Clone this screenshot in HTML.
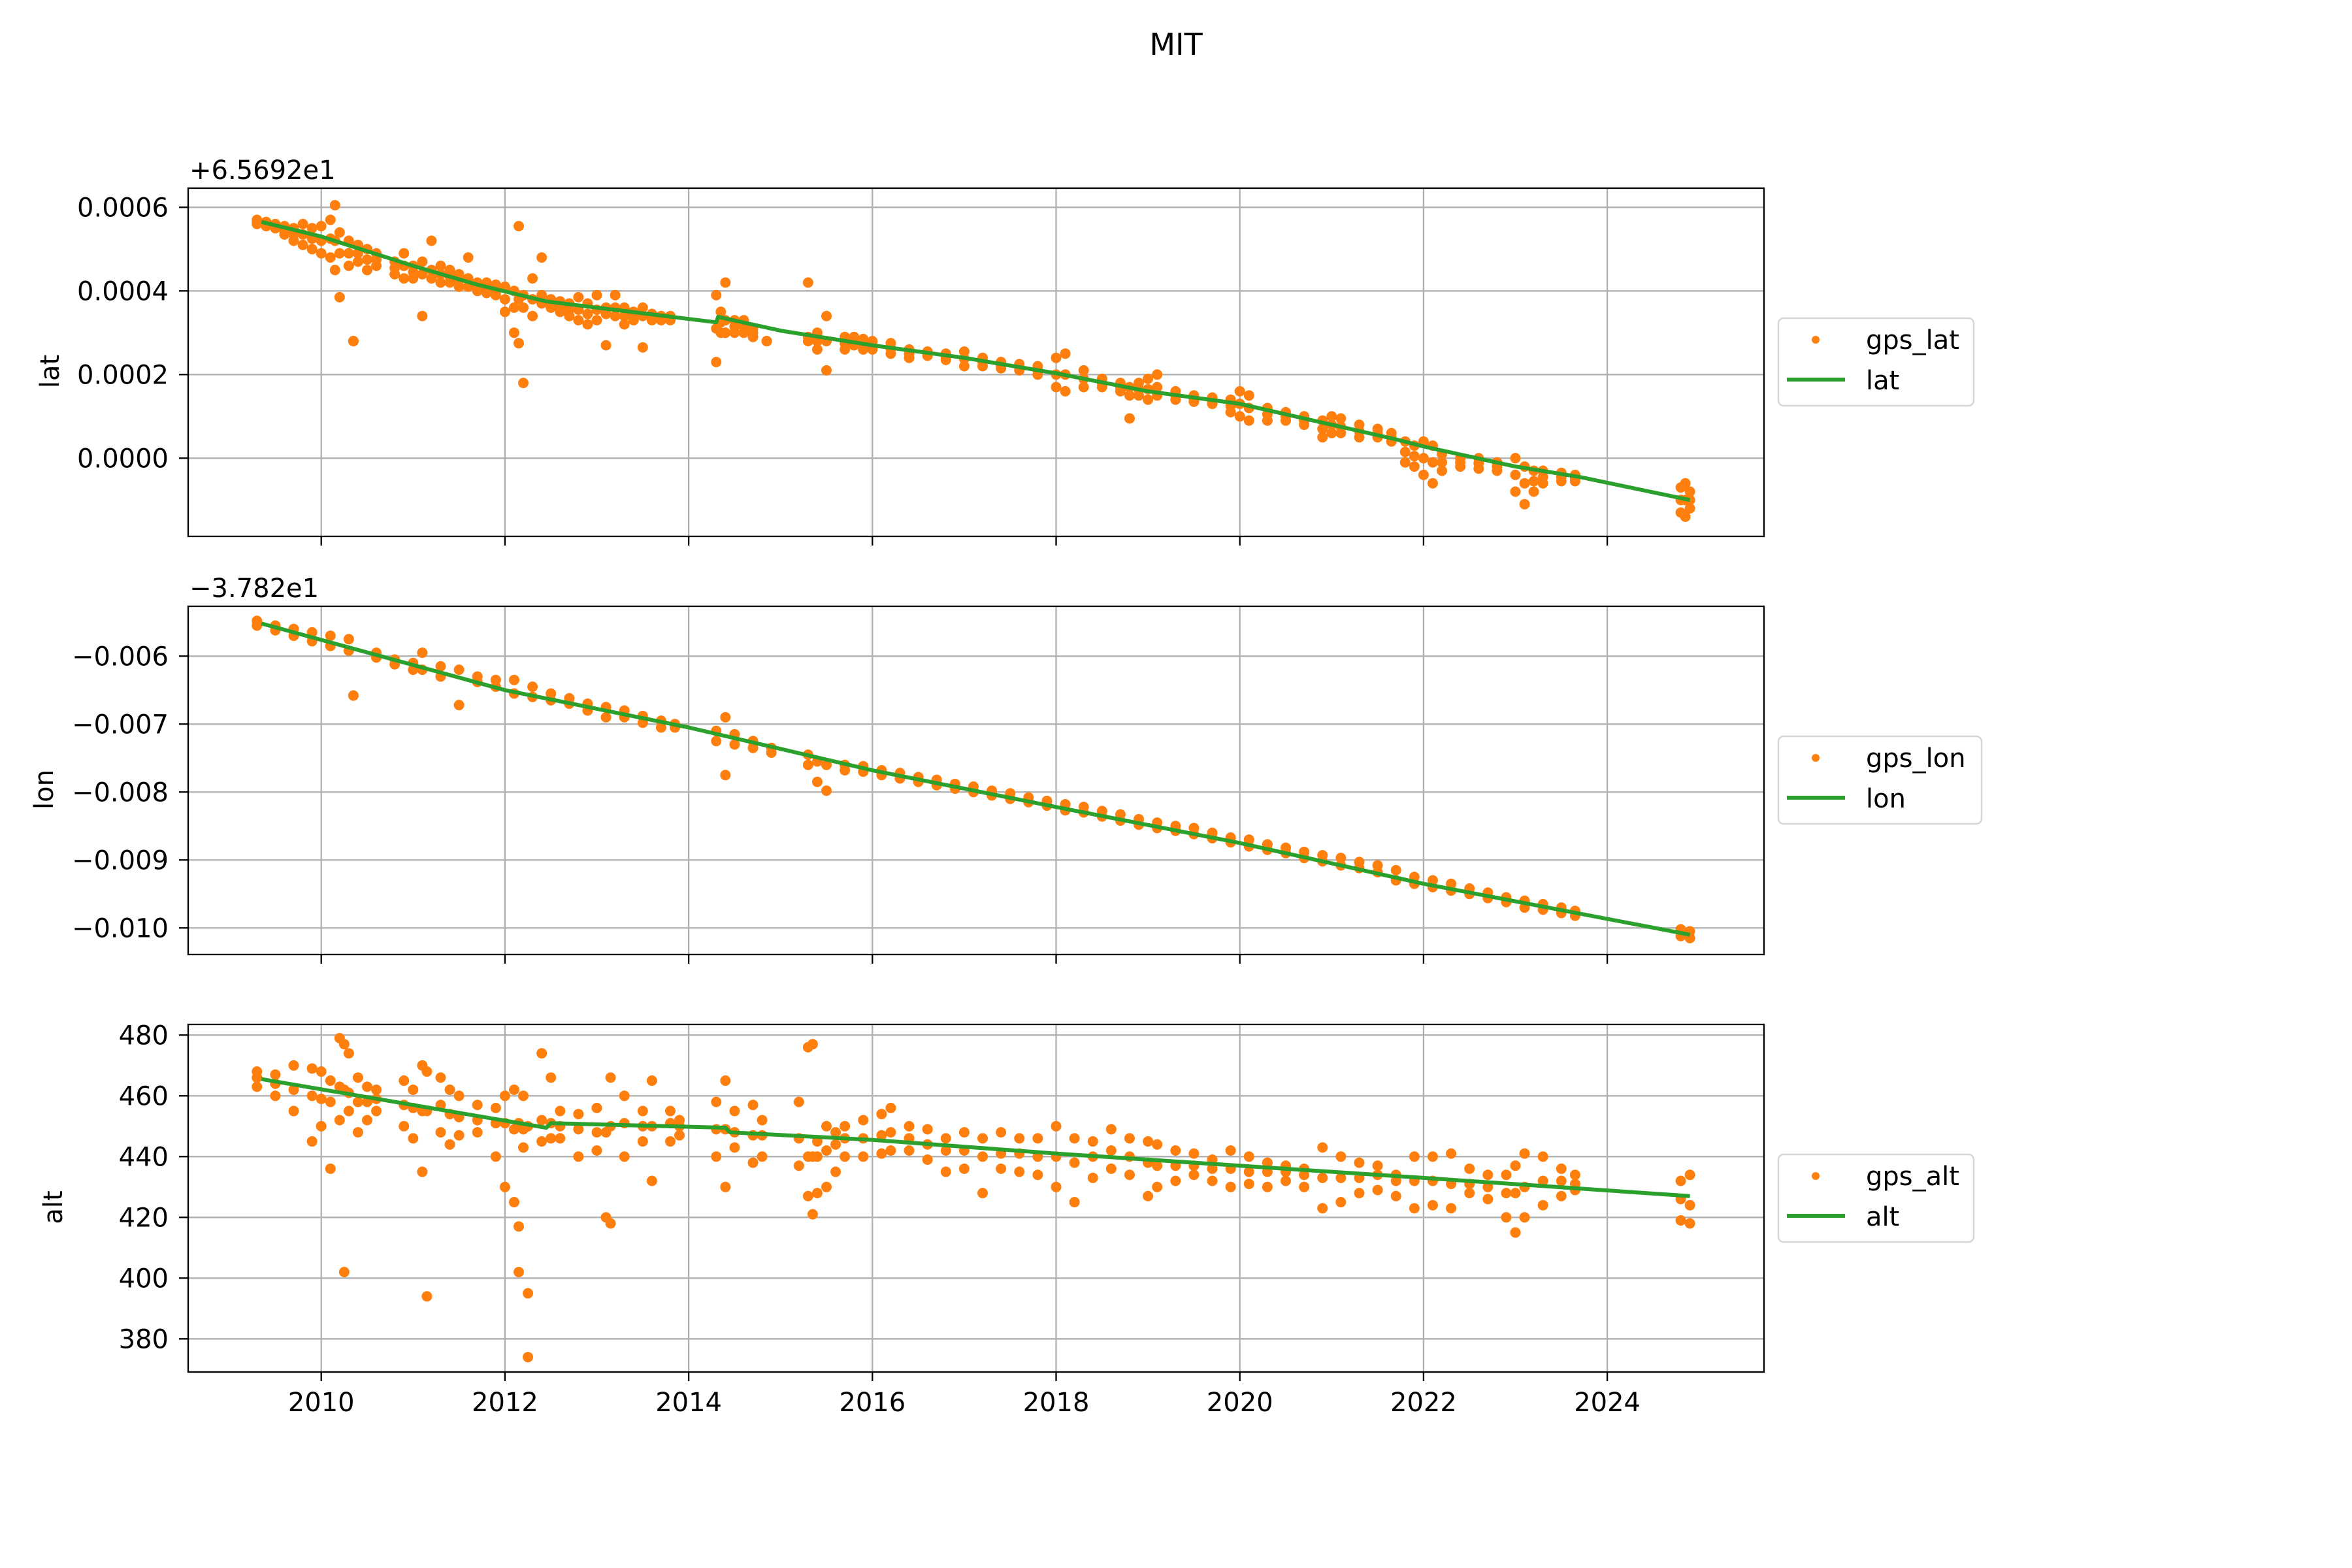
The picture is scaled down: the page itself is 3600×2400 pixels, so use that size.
<!DOCTYPE html>
<html><head><meta charset="utf-8"><style>
html,body{margin:0;padding:0;background:#fff}
svg{display:block}
text{font-family:"DejaVu Sans","Liberation Sans",sans-serif;fill:#000}
</style></head><body>
<svg id="fig" width="3600" height="2400" viewBox="0 0 3600 2400" xmlns="http://www.w3.org/2000/svg">
<rect width="3600" height="2400" fill="#fff"/>
<text x="1800" y="84" font-size="46" text-anchor="middle">MIT</text>
<g id="root"></g>
</svg>
<script>
// ---- data ----
const xTicks = [2010, 2012, 2014, 2016, 2018, 2020, 2022, 2024];

const latTicks = [0.0006, 0.0004, 0.0002, 0.0000];
const latTickLabels = ["0.0006", "0.0004", "0.0002", "0.0000"];
const latLineT = [2009.35, 2010.0, 2011.0, 2011.7, 2012.45, 2013.0, 2014.3, 2014.32, 2015, 2016, 2017, 2018, 2019, 2020, 2021, 2021.7, 2022, 2023, 2023.7, 2024.9];
const latLineV = [5.65, 5.3, 4.6, 4.15, 3.75, 3.6, 3.25, 3.38, 3.05, 2.7, 2.4, 2.03, 1.6, 1.3, 0.8, 0.45, 0.28, -0.2, -0.45, -1.0];
const latT = [2009.3,2009.4,2009.5,2009.6,2009.7,2009.8,2009.9,2010.0,2010.1,2010.15,2010.2,2010.3,2010.35,2010.4,2010.5,2010.6,2010.8,2010.9,2011.0,2011.1,2011.2,2011.3,2011.4,2011.5,2011.6,2011.7,2011.8,2011.9,2012.0,2012.1,2012.15,2012.2,2012.3,2012.4,2012.5,2012.6,2012.7,2012.8,2012.9,2013.0,2013.1,2013.2,2013.3,2013.4,2013.5,2013.6,2013.7,2013.8,2014.3,2014.35,2014.4,2014.5,2014.6,2014.7,2014.85,2015.3,2015.4,2015.5,2015.7,2015.8,2015.9,2016.0,2016.2,2016.4,2016.6,2016.8,2017.0,2017.2,2017.4,2017.6,2017.8,2018.0,2018.1,2018.3,2018.5,2018.7,2018.8,2018.9,2019.0,2019.1,2019.3,2019.5,2019.7,2019.9,2020.0,2020.1,2020.3,2020.5,2020.7,2020.9,2021.0,2021.1,2021.3,2021.5,2021.65,2021.8,2021.9,2022.0,2022.1,2022.2,2022.4,2022.6,2022.8,2023.0,2023.1,2023.2,2023.3,2023.5,2023.65,2024.8,2024.85,2024.9];
const latHi = [5.7,5.65,5.6,5.55,5.5,5.6,5.5,5.55,5.7,6.05,5.4,5.2,2.8,5.1,5.0,4.9,4.7,4.9,4.6,4.7,5.2,4.6,4.5,4.4,4.8,4.2,4.2,4.15,4.1,4.0,5.55,3.9,4.3,4.8,3.8,3.75,3.7,3.85,3.7,3.9,3.6,3.9,3.6,3.5,3.6,3.45,3.4,3.4,3.9,3.5,4.2,3.3,3.3,3.1,2.8,4.2,3.0,3.4,2.9,2.9,2.85,2.8,2.75,2.6,2.55,2.5,2.55,2.4,2.3,2.25,2.2,2.4,2.5,2.1,1.9,1.8,1.7,1.8,1.9,2.0,1.6,1.5,1.45,1.4,1.6,1.5,1.2,1.1,1.0,0.9,1.0,0.95,0.8,0.7,0.6,0.4,0.3,0.4,0.3,0.1,0.0,0.0,-0.1,0.0,-0.2,-0.3,-0.3,-0.35,-0.4,-0.7,-0.6,-0.8];
const latMid = [5.65,5.6,5.55,5.45,5.35,5.35,5.25,5.2,5.25,5.2,4.9,4.9,2.8,4.9,4.75,4.75,4.55,4.6,4.45,4.4,4.5,4.4,4.35,4.25,4.3,4.1,4.05,4.0,3.8,3.6,3.8,3.6,3.8,3.9,3.7,3.62,3.55,3.55,3.45,3.55,3.45,3.6,3.4,3.4,3.4,3.38,3.35,3.35,3.1,3.25,3.3,3.15,3.15,3.0,2.8,2.9,2.8,2.8,2.75,2.8,2.72,2.7,2.62,2.5,2.5,2.42,2.38,2.3,2.22,2.18,2.1,2.0,2.0,1.9,1.8,1.7,1.5,1.65,1.65,1.7,1.5,1.42,1.38,1.25,1.3,1.2,1.05,1.0,0.9,0.7,0.8,0.75,0.65,0.6,0.5,0.15,0.05,0.0,-0.1,-0.1,-0.1,-0.12,-0.2,-0.4,-0.6,-0.55,-0.45,-0.45,-0.48,-1.0,-1.0,-1.0];
const latLo = [5.6,5.55,5.5,5.35,5.2,5.1,5.0,4.9,4.8,4.5,3.85,4.6,2.8,4.7,4.5,4.6,4.4,4.3,4.3,3.4,4.3,4.2,4.2,4.1,4.1,4.0,3.95,3.9,3.5,3.0,2.75,1.8,3.4,3.7,3.6,3.5,3.4,3.3,3.2,3.3,2.7,3.4,3.2,3.3,2.65,3.3,3.3,3.3,2.3,3.0,3.0,3.0,3.0,2.9,2.8,2.8,2.6,2.1,2.6,2.7,2.6,2.6,2.5,2.4,2.45,2.35,2.2,2.2,2.15,2.1,2.0,1.7,1.6,1.7,1.7,1.6,0.95,1.5,1.4,1.5,1.4,1.35,1.3,1.1,1.0,0.9,0.9,0.9,0.8,0.5,0.6,0.6,0.5,0.5,0.4,-0.1,-0.2,-0.4,-0.6,-0.3,-0.2,-0.25,-0.3,-0.8,-1.1,-0.8,-0.6,-0.55,-0.55,-1.3,-1.4,-1.2];

const lonTicks = [-6, -7, -8, -9, -10];
const lonTickLabels = ["\u22120.006", "\u22120.007", "\u22120.008", "\u22120.009", "\u22120.010"];
const lonLineT = [2009.35, 2012, 2014, 2016, 2018, 2020, 2022, 2024.9];
const lonLineV = [-5.52, -6.5, -7.05, -7.68, -8.22, -8.75, -9.35, -10.1];
const lonT = [2009.3,2009.5,2009.7,2009.9,2010.1,2010.3,2010.35,2010.6,2010.8,2011.0,2011.1,2011.3,2011.5,2011.7,2011.9,2012.1,2012.3,2012.5,2012.7,2012.9,2013.1,2013.3,2013.5,2013.7,2013.85,2014.3,2014.4,2014.5,2014.7,2014.9,2015.3,2015.4,2015.5,2015.7,2015.9,2016.1,2016.3,2016.5,2016.7,2016.9,2017.1,2017.3,2017.5,2017.7,2017.9,2018.1,2018.3,2018.5,2018.7,2018.9,2019.1,2019.3,2019.5,2019.7,2019.9,2020.1,2020.3,2020.5,2020.7,2020.9,2021.1,2021.3,2021.5,2021.7,2021.9,2022.1,2022.3,2022.5,2022.7,2022.9,2023.1,2023.3,2023.5,2023.65,2024.8,2024.9];
const lonHi = [-5.48,-5.55,-5.6,-5.65,-5.7,-5.75,-6.58,-5.95,-6.05,-6.1,-5.95,-6.15,-6.2,-6.3,-6.35,-6.35,-6.45,-6.55,-6.62,-6.7,-6.75,-6.8,-6.88,-6.95,-7.0,-7.1,-6.9,-7.15,-7.25,-7.35,-7.45,-7.55,-7.6,-7.6,-7.62,-7.68,-7.72,-7.78,-7.82,-7.88,-7.92,-7.98,-8.02,-8.08,-8.13,-8.18,-8.22,-8.28,-8.33,-8.4,-8.45,-8.5,-8.53,-8.6,-8.67,-8.7,-8.77,-8.82,-8.88,-8.93,-8.97,-9.03,-9.08,-9.15,-9.25,-9.3,-9.35,-9.42,-9.48,-9.55,-9.6,-9.65,-9.7,-9.75,-10.02,-10.05];
const lonLo = [-5.55,-5.62,-5.7,-5.78,-5.85,-5.92,-6.58,-6.02,-6.12,-6.2,-6.2,-6.3,-6.72,-6.38,-6.45,-6.55,-6.6,-6.65,-6.7,-6.8,-6.9,-6.9,-6.98,-7.05,-7.05,-7.25,-7.75,-7.3,-7.35,-7.42,-7.6,-7.85,-7.98,-7.68,-7.7,-7.75,-7.8,-7.85,-7.9,-7.95,-8.0,-8.05,-8.1,-8.15,-8.2,-8.27,-8.3,-8.36,-8.42,-8.48,-8.53,-8.57,-8.62,-8.68,-8.74,-8.8,-8.85,-8.9,-8.97,-9.02,-9.08,-9.12,-9.18,-9.3,-9.35,-9.4,-9.45,-9.5,-9.56,-9.62,-9.7,-9.73,-9.78,-9.82,-10.12,-10.15];

const altTicks = [480, 460, 440, 420, 400, 380];
const altTickLabels = ["480", "460", "440", "420", "400", "380"];
const altLineT = [2009.35, 2012.45, 2012.5, 2014.4, 2014.45, 2016, 2018, 2020, 2022, 2024.9];
const altLineV = [465.5, 449.5, 451, 449.5, 448, 445.5, 441, 437, 433, 427];
const altT = [2009.3,2009.5,2009.7,2009.9,2010.0,2010.1,2010.2,2010.25,2010.3,2010.4,2010.5,2010.6,2010.9,2011.0,2011.1,2011.15,2011.3,2011.4,2011.5,2011.7,2011.9,2012.0,2012.1,2012.15,2012.2,2012.25,2012.4,2012.5,2012.6,2012.8,2013.0,2013.1,2013.15,2013.3,2013.5,2013.6,2013.8,2013.9,2014.3,2014.4,2014.5,2014.7,2014.8,2015.2,2015.3,2015.35,2015.4,2015.5,2015.6,2015.7,2015.9,2016.1,2016.2,2016.4,2016.6,2016.8,2017.0,2017.2,2017.4,2017.6,2017.8,2018.0,2018.2,2018.4,2018.6,2018.8,2019.0,2019.1,2019.3,2019.5,2019.7,2019.9,2020.1,2020.3,2020.5,2020.7,2020.9,2021.1,2021.3,2021.5,2021.7,2021.9,2022.1,2022.3,2022.5,2022.7,2022.9,2023.0,2023.1,2023.3,2023.5,2023.65,2024.8,2024.9];
const altHi = [468,467,470,469,468,465,479,477,474,466,463,462,465,462,470,468,466,462,460,457,456,460,462,417,460,395,474,466,455,454,456,448,466,460,455,465,455,452,458,465,455,457,452,458,476,477,445,450,448,450,452,454,456,450,449,446,448,446,448,446,446,450,446,445,449,446,445,444,442,441,439,442,440,438,437,436,443,440,438,437,434,440,440,441,436,434,434,437,441,440,436,434,432,434];
const altMid = [466,464,462,460,459,458,463,462,461,458,458,459,457,456,455,455,457,454,453,452,451,451,449,451,449,450,452,451,450,449,448,448,450,451,450,450,451,450,449,449,448,447,447,446,440,440,440,442,444,446,446,447,448,446,444,442,442,440,441,441,440,440,438,440,442,440,438,437,437,437,436,436,435,435,435,434,433,433,433,434,432,432,432,431,431,430,428,428,430,432,432,431,426,424];
const altLo = [463,460,455,445,450,436,452,402,455,448,452,455,450,446,435,394,448,444,447,448,440,430,425,402,443,374,445,446,446,440,442,420,418,440,445,432,445,447,440,430,443,438,440,437,427,421,428,430,435,440,440,441,442,442,439,435,436,428,436,435,434,430,425,433,436,434,427,430,432,434,432,430,431,430,432,430,423,425,428,429,427,423,424,423,428,426,420,415,420,424,427,429,419,418];

// ---- layout ----
const NS = "http://www.w3.org/2000/svg";
const root = document.getElementById("root");
const X0 = 288, X1 = 2700;
function xs(t) { return 491.7 + (t - 2010) * 140.6; }
const panels = [
  {name:"lat", top:288, bottom:821, ys:v=>701.3 - v*64, tickY:v=>701.3 - v*1e4*64,
   ticks:latTicks, labels:latTickLabels, lt:latLineT, lv:latLineV, st:latT, series:[latHi, latMid, latLo],
   offset:"+6.5692e1", ylab:"lat", ylabX:76, leg:["gps_lat","lat"], legW:299},
  {name:"lon", top:928, bottom:1461, ys:v=>1004.3 - (v+6)*104, tickY:v=>1004.3 - (v+6)*104,
   ticks:lonTicks, labels:lonTickLabels, lt:lonLineT, lv:lonLineV, st:lonT, series:[lonHi, lonLo],
   offset:"\u22123.782e1", ylab:"lon", ylabX:67, leg:["gps_lon","lon"], legW:311},
  {name:"alt", top:1568, bottom:2100, ys:v=>1584.3 - (v-480)*4.65, tickY:v=>1584.3 - (v-480)*4.65,
   ticks:altTicks, labels:altTickLabels, lt:altLineT, lv:altLineV, st:altT, series:[altHi, altMid, altLo],
   offset:"", ylab:"alt", ylabX:81, leg:["gps_alt","alt"], legW:299}
];
function mk(tag, attrs, parent) {
  const e = document.createElementNS(NS, tag);
  for (const k in attrs) e.setAttribute(k, attrs[k]);
  (parent || root).appendChild(e);
  return e;
}
panels.forEach((p, pi) => {
  const g = mk("g", {});
  
  
  const clipId = "clip" + pi;
  const cp = mk("clipPath", {id: clipId}, g);
  mk("rect", {x: X0, y: p.top, width: X1 - X0, height: p.bottom - p.top}, cp);
  xTicks.forEach(t => {
    const l = mk("line", {x1: xs(t), x2: xs(t), y1: p.top, y2: p.bottom, stroke: "#b0b0b0", "stroke-width": 2.3}, g);
    
    
    const tk = mk("line", {x1: xs(t), x2: xs(t), y1: p.bottom, y2: p.bottom + 14, stroke: "#000", "stroke-width": 2.3}, g);
    
    
    if (pi === 2) {
      const tx = mk("text", {x: xs(t), y: 2160, "font-size": 40, "text-anchor": "middle"}, g);
      tx.textContent = String(t);
      
      
    }
  });
  p.ticks.forEach((v, i) => {
    const y = p.tickY(v);
    const l = mk("line", {x1: X0, x2: X1, y1: y, y2: y, stroke: "#b0b0b0", "stroke-width": 2.3}, g);
    
    
    const tk = mk("line", {x1: X0 - 14, x2: X0, y1: y, y2: y, stroke: "#000", "stroke-width": 2.3}, g);
    
    
    const tx = mk("text", {x: X0 - 30, y: y + 14, "font-size": 40, "text-anchor": "end"}, g);
    tx.textContent = p.labels[i];
    
    
  });
  const sg = mk("g", {"clip-path": "url(#" + clipId + ")"}, g);
  
  
  p.st.forEach((t, i) => {
    p.series.forEach(arr => {
      const v = arr[i];
      if (v === undefined) return;
      const c = mk("circle", {cx: xs(t), cy: p.ys(v), r: 8, fill: "#ff7f0e"}, sg);
      
      
    });
  });
  const pts = p.lt.map((t, i) => xs(t) + "," + p.ys(p.lv[i])).join(" ");
  const pl = mk("polyline", {points: pts, fill: "none", stroke: "#2ca02c", "stroke-width": 6, "stroke-linejoin": "round", "clip-path": "url(#" + clipId + ")"}, g);
  
  
  const fr = mk("rect", {x: X0, y: p.top, width: X1 - X0, height: p.bottom - p.top, fill: "none", stroke: "#000", "stroke-width": 2.3}, g);
  
  
  const yl = mk("text", {x: p.ylabX, y: (p.top + p.bottom) / 2, "font-size": 40, "text-anchor": "middle", transform: "rotate(-90 " + (p.ylabX + 14) + " " + ((p.top + p.bottom) / 2) + ")"}, g);
  yl.textContent = p.ylab;
  
  
  if (p.offset) {
    const ot = mk("text", {x: 290, y: p.top - 14, "font-size": 40}, g);
    ot.textContent = p.offset;
    
    
  }
  const ly = p.top + 199;
  const lg = mk("g", {}, g);
  
  
  mk("rect", {x: 2722, y: ly, width: p.legW, height: 134, rx: 8, fill: "#fff", "fill-opacity": 0.8, stroke: "#d6d6d6", "stroke-width": 2.5}, lg);
  const m = mk("circle", {cx: 2779, cy: ly + 33, r: 6, fill: "#ff7f0e"}, lg);
  
  
  const t1 = mk("text", {x: 2856, y: ly + 47, "font-size": 40}, lg);
  t1.textContent = p.leg[0];
  
  
  const ll = mk("line", {x1: 2735, x2: 2824, y1: ly + 94, y2: ly + 94, stroke: "#2ca02c", "stroke-width": 6}, lg);
  
  
  const t2 = mk("text", {x: 2856, y: ly + 109, "font-size": 40}, lg);
  t2.textContent = p.leg[1];
  
  
});
</script>
</body></html>
